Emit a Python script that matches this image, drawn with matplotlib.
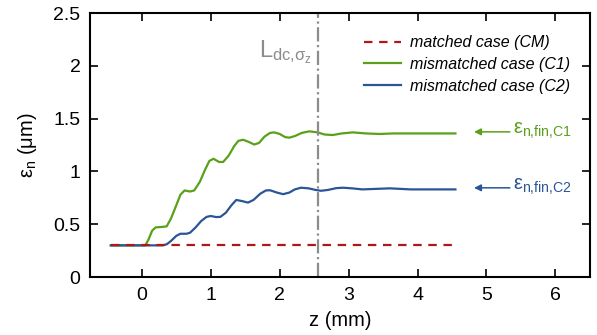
import matplotlib
matplotlib.use('Agg')
import matplotlib.pyplot as plt

plt.rcParams['font.family'] = ['Liberation Sans', 'DejaVu Sans']
plt.rcParams['mathtext.fontset'] = 'custom'
plt.rcParams['mathtext.rm'] = 'Liberation Sans'
plt.rcParams['mathtext.it'] = 'Liberation Sans:italic'

# emittance curves (z in mm, eps in um)
z_cm = [-0.45, 0.5, 1.5, 2.5, 3.5, 4.55]
eps_cm = [0.30, 0.30, 0.30, 0.30, 0.30, 0.30]

z_c1 = [-0.45, 0.05, 0.10, 0.15, 0.20, 0.30, 0.36, 0.42, 0.50, 0.56, 0.62, 0.70,
        0.76, 0.84, 0.92, 0.98, 1.04, 1.12, 1.18, 1.26, 1.34, 1.40, 1.47, 1.55,
        1.63, 1.70, 1.78, 1.86, 1.92, 2.00, 2.08, 2.14, 2.22, 2.32, 2.43, 2.55,
        2.65, 2.77, 2.90, 3.06, 3.25, 3.45, 3.65, 3.90, 4.20, 4.55]
eps_c1 = [0.30, 0.30, 0.36, 0.44, 0.47, 0.475, 0.48, 0.55, 0.68, 0.78, 0.82, 0.81,
          0.82, 0.90, 1.02, 1.10, 1.12, 1.09, 1.09, 1.15, 1.24, 1.29, 1.30, 1.28,
          1.255, 1.27, 1.33, 1.365, 1.37, 1.355, 1.325, 1.32, 1.335, 1.365, 1.38, 1.37,
          1.35, 1.345, 1.36, 1.37, 1.36, 1.355, 1.36, 1.36, 1.36, 1.36]

z_c2 = [-0.45, 0.30, 0.36, 0.42, 0.50, 0.56, 0.65, 0.70, 0.78, 0.86, 0.94, 1.00,
        1.08, 1.14, 1.22, 1.30, 1.37, 1.45, 1.54, 1.62, 1.72, 1.80, 1.86, 1.96,
        2.05, 2.14, 2.22, 2.31, 2.42, 2.52, 2.60, 2.70, 2.82, 2.92, 3.05, 3.20,
        3.40, 3.60, 3.90, 4.20, 4.55]
eps_c2 = [0.30, 0.30, 0.31, 0.34, 0.39, 0.41, 0.41, 0.42, 0.47, 0.53, 0.57, 0.578,
          0.568, 0.57, 0.61, 0.68, 0.73, 0.72, 0.705, 0.73, 0.79, 0.82, 0.822, 0.80,
          0.785, 0.80, 0.83, 0.846, 0.84, 0.825, 0.817, 0.825, 0.842, 0.846, 0.84, 0.83,
          0.835, 0.84, 0.83, 0.83, 0.83]

z_ldc = 2.55
eps_fin = [1.36, 0.83]
fin_labels = [r'$\mathrm{\varepsilon_{n{,}fin{,}C1}}$', r'$\mathrm{\varepsilon_{n{,}fin{,}C2}}$']

green = '#5aa01a'
blue = '#2a5597'
red = '#b01818'
grey = '#8c8c8c'

fig = plt.figure(figsize=(5.97, 3.35), dpi=100)
ax = fig.add_axes([0.151, 0.173, 0.837, 0.788])

ax.plot(z_c1, eps_c1, color=green, lw=1.6, label='mismatched case (C1)')
ax.plot(z_c2, eps_c2, color=blue, lw=1.6, label='mismatched case (C2)')
ax.plot(z_cm, eps_cm, color=red, lw=1.6, ls=(0, (3.8, 3)), label='matched case (CM)')
ax.axvline(z_ldc, color=grey, lw=1.6, ls='-.')

ax.text(1.7, 2.08, r'$\mathrm{L_{dc{,}\sigma_z}}$', color=grey, fontsize=17)

for e, lab, c in zip(eps_fin, fin_labels, [green, blue]):
    ax.annotate('', xy=(4.78, e + 0.015), xytext=(5.38, e + 0.015),
                arrowprops=dict(arrowstyle='-|>', color=c, lw=1.1,
                                mutation_scale=10))
    ax.text(5.38, e - 0.075, lab, color=c, fontsize=14.5, va='bottom', ha='left')

handles, labels = ax.get_legend_handles_labels()
order = [2, 0, 1]
leg = ax.legend([handles[i] for i in order], [labels[i] for i in order],
                loc='upper right', bbox_to_anchor=(0.99, 0.97), frameon=False,
                prop={'style': 'italic', 'size': 11.5}, handlelength=2.3,
                labelspacing=0.42, handletextpad=0.6)

ax.set_xlim(-0.75, 6.5)
ax.set_ylim(0, 2.5)
ax.set_xticks([0, 1, 2, 3, 4, 5, 6])
ax.set_yticks([0, 0.5, 1, 1.5, 2, 2.5])
ax.set_yticklabels(['0', '0.5', '1', '1.5', '2', '2.5'])
ax.tick_params(direction='in', length=6, width=1.2, labelsize=14,
               top=True, right=True, pad=7)
for s in ax.spines.values():
    s.set_linewidth(1.5)

ax.set_xlabel('z (mm)', fontsize=14.5, labelpad=5)
ax.set_ylabel(r'$\mathrm{\varepsilon_n}$ (μm)', fontsize=14.5, labelpad=10)

fig.savefig('out.png', dpi=100)
